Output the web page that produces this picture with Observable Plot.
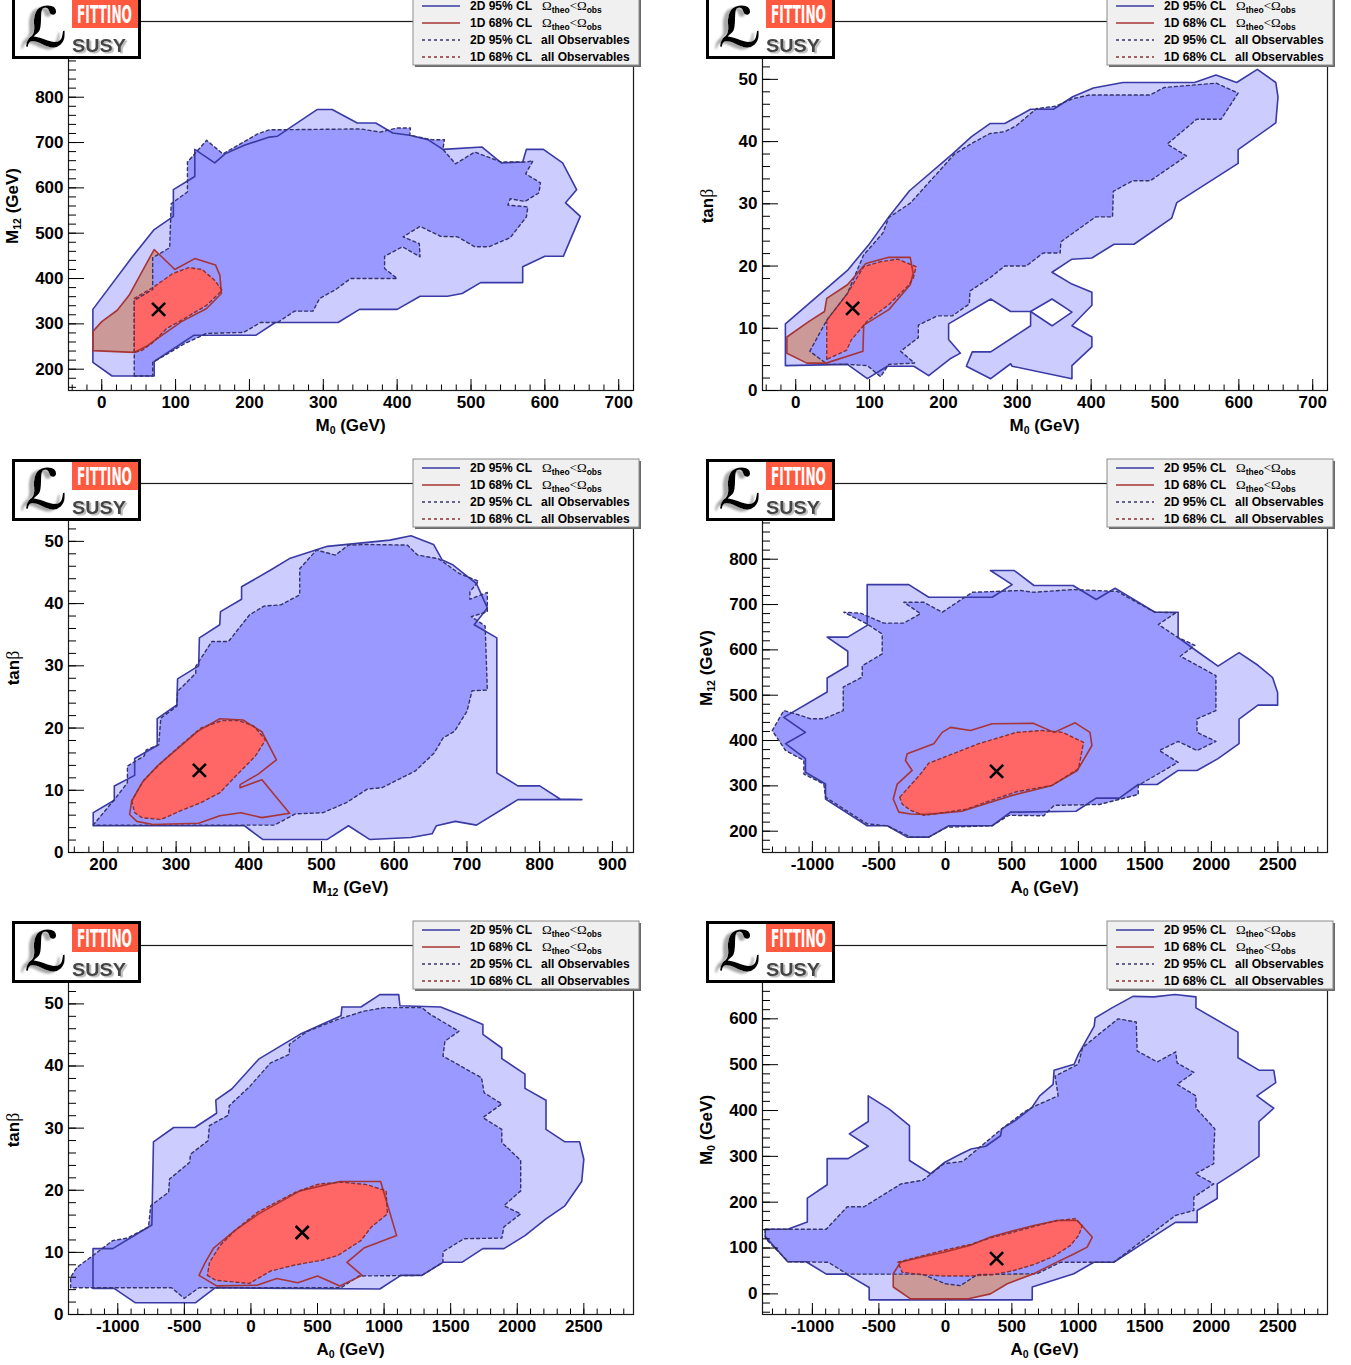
<!DOCTYPE html>
<html><head><meta charset="utf-8">
<script src="https://cdn.jsdelivr.net/npm/d3@7"></script>
<script src="https://cdn.jsdelivr.net/npm/@observablehq/plot@0.6"></script>
<style>
body{margin:0;background:#fff;}
#root{position:relative;width:1351px;height:1365px;overflow:hidden;font-family:"Liberation Sans",Arial,Helvetica,sans-serif;background:#fff;}
.panel{position:absolute;width:675px;height:462px;}
.panel > svg.plotsvg{position:absolute;left:0;top:0;overflow:visible;}
.logo{position:absolute;left:12px;top:-3px;}
.legend{position:absolute;left:412px;top:-4px;}
.xtitle,.ytitle{position:absolute;font-weight:bold;font-size:17px;white-space:nowrap;color:#000;}
.xtitle{transform:translate(-50%,-50%);}
.ytitle{transform:translate(-50%,-50%) rotate(-90deg);}
sub{font-size:0.62em;vertical-align:-0.3em;line-height:0;}
.sym{font-family:"Liberation Serif","DejaVu Serif",serif;font-weight:normal;font-size:1.05em;}
</style>
</head><body><div id="root"></div>
<script>
// ---------- tick labels ----------
const ticksM0X  = [0,100,200,300,400,500,600,700];
const ticksM12Y = [200,300,400,500,600,700,800];
const ticksTanb = [0,10,20,30,40,50];
const ticksM12X = [200,300,400,500,600,700,800,900];
const ticksA0   = [-1000,-500,0,500,1000,1500,2000,2500];
const ticksM0Y  = [0,100,200,300,400,500,600];

// ---------- best fit point ----------
const bestM0 = 77, bestM12 = 332, bestTanb = 13.2, bestA0 = 385;

// ---------- Panel 1 : M0 vs M12 ----------
const m0m12_omega2D = [[-12,215],[14,185],[71,185],[71,217],[125,275],[209,275],[235,303],[320,303],[349,332],[400,332],[431,361],[468,361],[488,367],[513,391],[570,391],[570,426],[600,449],[625,449],[638,499],[648,537],[628,567],[643,596],[624,655],[598,685],[575,685],[570,657],[541,655],[515,690],[462,685],[442,706],[417,716],[394,721],[371,743],[346,743],[312,773],[292,773],[238,714],[227,712],[193,694],[167,675],[153,655],[126,685],[126,625],[97,596],[97,537],[71,508],[42,449],[-12,332]];
const m0m12_all2D = [[44,185],[44,352],[69,376],[69,446],[92,468],[94,565],[116,591],[116,657],[142,705],[164,675],[211,719],[227,728],[351,730],[377,723],[400,732],[418,732],[417,716],[448,706],[464,706],[462,685],[479,653],[505,679],[541,657],[575,657],[584,660],[574,631],[594,611],[592,589],[573,570],[553,576],[550,562],[577,558],[575,536],[553,490],[524,470],[505,470],[482,492],[459,493],[431,515],[408,492],[430,477],[431,448],[407,470],[383,449],[383,422],[400,400],[337,400],[317,376],[295,356],[286,328],[261,328],[238,303],[215,303],[192,281],[142,279],[113,257],[69,215],[69,185]];
const m0m12_omega1D = [[-12,241],[-12,283],[0,305],[21,330],[37,363],[71,464],[99,420],[126,444],[154,430],[160,407],[162,367],[142,334],[108,305],[79,272],[60,250],[44,237]];
const m0m12_all1D = [[44,237],[44,356],[71,382],[96,411],[118,424],[136,420],[153,396],[163,374],[142,341],[108,308],[88,290],[68,257],[54,241]];

// ---------- Panel 2 : M0 vs tan(beta) ----------
const m0tb_omega2D = [[-14,4.0],[-14,10.7],[70,19.3],[100,23.6],[126,27.9],[154,32.1],[212,38.0],[238,40.8],[263,42.9],[283,42.9],[318,45.2],[349,45.2],[375,47.2],[403,48.6],[443,49.5],[540,49.5],[569,50.7],[597,49.5],[625,51.6],[650,49.5],[653,47.2],[650,43.0],[599,38.7],[599,36.5],[516,30.2],[509,27.7],[458,23.5],[431,23.5],[401,21.3],[374,21.1],[347,19.0],[374,17.1],[401,15.8],[401,13.7],[374,10.4],[401,8.6],[401,7.0],[374,4.0],[374,1.9],[293,3.9],[291,4.3],[264,1.9],[231,3.9],[239,6.2],[264,6.2],[318,10.4],[318,12.7],[291,12.7],[264,14.7],[207,10.7],[207,8.2],[223,6.0],[209,5.1],[180,2.4],[160,3.9],[124,3.9],[97,1.9],[70,4.2]];
const m0tb_omega2D_hole = [[318,12.7],[347,14.7],[374,12.6],[347,10.4]];
const m0tb_all2D = [[19,6.3],[42,11.3],[70,15.6],[92,21.8],[118,25.3],[126,27.8],[155,30.1],[215,38.0],[238,39.7],[263,41.3],[283,41.6],[298,42.5],[326,45.3],[352,45.7],[375,46.9],[398,47.5],[480,47.5],[499,48.7],[569,49.4],[599,47.8],[576,43.6],[543,43.6],[503,39.6],[529,37.7],[480,33.7],[456,33.7],[430,32.0],[429,27.9],[406,27.9],[359,23.9],[358,22.1],[335,22.1],[312,20.0],[283,20.0],[263,18.1],[236,16.0],[235,13.9],[212,12.0],[192,12.0],[166,10.5],[166,8.5],[142,6.3],[161,4.4],[126,4.2],[115,2.2],[97,4.0],[70,4.2],[43,4.2]];
const m0tb_omega1D = [[-12,8.6],[18,11.1],[39,12.7],[42,14.8],[70,17.0],[95,20.4],[126,21.4],[155,21.4],[159,18.8],[155,17.0],[126,13.0],[92,10.5],[91,6.3],[41,4.4],[15,4.4],[-12,6.0]];
const m0tb_all1D = [[42,5.0],[42,11.3],[70,15.6],[92,19.9],[115,20.7],[138,21.1],[163,19.9],[159,18.0],[152,16.8],[126,13.8],[98,11.3],[75,8.1],[69,6.5]];

// ---------- Panel 3 : M12 vs tan(beta) ----------
const m12tb_omega2D = [[186,4.3],[186,6.4],[215,8.4],[215,10.7],[243,12.4],[243,15.1],[274,17.2],[274,21.5],[301,23.7],[302,27.9],[331,30.0],[332,34.5],[360,36.6],[361,38.7],[390,40.7],[390,42.7],[430,45.4],[457,47.3],[508,49.2],[594,50.2],[623,50.9],[654,49.5],[666,47.0],[681,46.2],[713,43.2],[728,39.3],[710,36.6],[741,34.5],[741,12.8],[770,10.7],[800,10.7],[828,8.6],[858,8.5],[770,8.5],[713,4.4],[684,5.0],[658,4.3],[652,3.0],[623,2.4],[566,2.1],[537,4.3],[508,2.1],[419,2.1],[394,4.3]];
const m12tb_all2D = [[186,4.4],[215,8.5],[233,11.2],[233,13.9],[256,15.5],[259,16.5],[276,17.3],[279,21.6],[301,23.5],[302,25.9],[327,28.8],[327,29.9],[349,33.9],[372,33.9],[401,38.2],[421,39.6],[444,39.8],[470,41.4],[470,45.6],[493,48.6],[519,47.8],[537,49.4],[563,49.5],[618,49.4],[632,47.8],[661,47.2],[690,44.8],[716,43.6],[704,41.9],[704,40.7],[728,41.8],[728,38.7],[706,37.9],[725,36.4],[728,26.1],[707,26.0],[700,22.7],[683,19.5],[667,18.4],[655,16.0],[629,13.1],[583,10.4],[563,10.2],[534,8.0],[502,6.4],[464,6.2],[435,4.4]];
const m12tb_omega1D = [[239,8.3],[236,6.1],[246,5.0],[268,4.5],[331,4.7],[360,5.9],[389,6.4],[418,5.6],[456,6.3],[418,11.7],[388,10.4],[388,10.9],[413,12.6],[438,14.9],[418,19.4],[392,21.3],[360,21.5],[330,19.5],[300,16.5],[274,13.9],[253,11.2]];
const m12tb_all1D = [[239,8.3],[243,6.4],[253,5.6],[279,5.3],[308,6.8],[334,8.0],[360,9.6],[383,12.4],[409,15.5],[423,18.1],[407,20.3],[386,21.2],[363,21.2],[334,20.0],[302,16.8],[282,14.7],[256,11.7]];

// ---------- Panel 4 : A0 vs M12 ----------
const a0m12_omega2D = [[-588,744],[-275,744],[-125,716],[352,716],[502,744],[339,775],[518,775],[666,742],[960,742],[1134,711],[1276,736],[1576,683],[1750,683],[1750,627],[1892,597],[2050,564],[2208,594],[2350,566],[2460,539],[2498,506],[2498,478],[2350,478],[2208,447],[2208,393],[2050,360],[1892,334],[1750,334],[1592,303],[1450,303],[1308,273],[1134,273],[982,244],[490,242],[352,212],[26,212],[-125,187],[-287,187],[-437,212],[-588,212],[-901,271],[-901,304],[-1052,330],[-1052,360],[-1202,393],[-1052,418],[-1215,451],[-889,507],[-889,538],[-734,565],[-734,597],[-889,628],[-734,628],[-588,654]];
const a0m12_all2D = [[-1302,422],[-1215,466],[-1127,459],[-1014,448],[-914,448],[-768,466],[-768,518],[-625,540],[-625,565],[-475,591],[-475,635],[-588,657],[-764,683],[-638,681],[-463,659],[-313,659],[-187,680],[-313,705],[-162,705],[-24,683],[202,727],[565,731],[660,727],[960,733],[1292,729],[1450,703],[1576,683],[1734,682],[1601,656],[1750,627],[1876,610],[1766,586],[1892,566],[2034,543],[2034,466],[1892,448],[1892,418],[2034,398],[1892,378],[1750,398],[1608,378],[1750,352],[1450,301],[1450,281],[1159,259],[818,257],[739,234],[477,235],[352,212],[139,210],[13,209],[-125,187],[-262,187],[-437,212],[-588,216],[-901,275],[-914,304],[-1064,326],[-1064,356],[-1202,378]];
const a0m12_omega1D = [[-262,238],[-130,237],[123,244],[502,279],[802,301],[992,334],[1102,389],[1087,418],[976,439],[818,418],[660,438],[352,437],[189,422],[39,429],[-24,418],[-87,393],[-287,371],[-300,356],[-250,334],[-362,304],[-392,271],[-350,242]];
const a0m12_all1D = [[-343,275],[-325,260],[-262,246],[-162,235],[13,242],[164,249],[313,265],[534,287],[802,301],[1001,338],[1039,396],[881,418],[723,422],[534,418],[251,393],[-125,350],[-187,326]];

// ---------- Panel 5 : A0 vs tan(beta) ----------
const a0tb_omega2D = [[-1186,4.2],[-1186,10.6],[-1038,10.6],[-744,14.4],[-732,27.8],[-580,30.1],[-422,30.1],[-258,32.4],[-264,34.5],[-144,36.3],[58,41.1],[368,45.1],[677,48.1],[683,49.5],[826,49.5],[968,51.5],[1110,51.5],[1119,49.7],[1425,49.5],[1600,48.0],[1742,46.7],[1742,45.1],[1884,42.9],[1884,41.2],[2058,38.7],[2058,36.4],[2216,34.5],[2216,29.8],[2358,27.8],[2468,27.8],[2500,25.0],[2484,21.4],[2358,17.5],[2216,15.4],[2058,12.7],[1900,10.6],[1742,10.6],[1584,8.4],[1442,8.4],[1284,6.3],[1126,6.3],[968,4.1],[-270,4.3],[-415,1.9],[-870,1.9],[-1028,4.2]];
const a0tb_all2D = [[-1354,4.3],[-1354,6.0],[-1306,7.6],[-1186,9.5],[-1038,11.9],[-927,12.3],[-769,14.1],[-753,17.5],[-618,19.7],[-611,21.8],[-460,24.5],[-454,25.8],[-321,28.0],[-312,30.4],[-169,32.1],[-163,33.6],[-5,36.8],[147,40.5],[289,41.9],[289,43.5],[425,45.6],[652,47.5],[842,48.8],[999,49.4],[1284,49.4],[1347,48.3],[1562,45.6],[1457,44.0],[1442,41.6],[1732,38.1],[1751,35.7],[1884,33.9],[1742,31.7],[1884,29.8],[1884,27.7],[2026,24.8],[2026,19.9],[1900,17.5],[2026,16.2],[1900,14.1],[1884,12.3],[1600,12.2],[1442,10.1],[1442,8.4],[1284,6.3],[810,6.2],[677,4.3],[-390,4.3],[-501,2.6],[-596,4.3]];
const a0tb_omega1D = [[-390,6.3],[-258,4.6],[45,4.7],[194,5.8],[352,5.1],[500,6.2],[668,4.6],[835,6.3],[721,8.4],[848,10.7],[1094,12.7],[974,21.4],[668,21.4],[368,19.9],[58,16.2],[-122,13.5],[-280,10.7],[-343,8.4]];
const a0tb_all1D = [[-327,6.3],[-264,5.5],[-11,5.0],[147,7.0],[336,8.0],[525,8.7],[652,9.5],[826,11.9],[905,14.1],[1025,16.2],[1015,19.9],[873,20.9],[683,21.3],[510,21.0],[336,19.7],[52,16.5],[-106,13.8],[-232,11.1],[-311,8.4]];

// ---------- Panel 6 : A0 vs M0 ----------
const a0m0_omega2D = [[-1354,141],[-1186,141],[-1038,157],[-1038,209],[-889,238],[-889,295],[-731,295],[-580,322],[-722,349],[-580,376],[-580,432],[-422,403],[-270,367],[-270,291],[-112,262],[-11,286],[115,305],[194,316],[304,322],[415,345],[424,360],[525,378],[652,407],[709,432],[810,457],[817,488],[968,501],[999,522],[1119,584],[1126,602],[1252,624],[1410,649],[1568,648],[1726,653],[1884,648],[1884,624],[2200,571],[2200,515],[2358,488],[2469,488],[2484,461],[2342,432],[2469,405],[2358,376],[2358,300],[2200,269],[2044,240],[2044,208],[1893,182],[1893,156],[1730,156],[1266,69],[1116,69],[966,44],[653,15],[653,-13],[-573,-13],[-573,14],[-744,43],[-895,43],[-1047,70],[-1186,70],[-1354,125]];
const a0m0_all2D = [[-1354,141],[-896,141],[-738,190],[-611,190],[-333,240],[-169,248],[-11,284],[131,289],[424,360],[589,396],[652,407],[848,432],[825,475],[999,501],[1031,537],[1182,573],[1299,600],[1435,593],[1442,530],[1593,506],[1732,528],[1742,504],[1868,483],[1742,457],[1884,432],[1884,405],[2026,360],[2018,313],[2018,284],[1880,262],[2018,240],[1868,211],[1868,182],[1730,171],[1266,69],[866,69],[690,44],[239,42],[114,18],[-1,22],[-174,43],[-738,43],[-880,69],[-1180,70],[-1354,121]];
const a0m0_omega1D = [[-337,69],[-392,44],[-392,15],[-262,-11],[164,-11],[339,0],[465,22],[665,44],[815,66],[966,87],[1066,102],[1104,124],[991,160],[841,160],[665,149],[515,138],[339,124],[189,106],[-12,91],[-187,80]];
const a0m0_all1D = [[-357,69],[-187,82],[-12,95],[189,108],[339,122],[515,135],[665,147],[841,160],[978,164],[1029,149],[1003,128],[941,106],[815,82],[665,64],[515,51],[364,42],[189,39],[-12,39],[-187,42],[-325,47]];

// ---------- styles ----------
const C_LIGHT = "#ccccff", C_MED = "#9999ff", C_RED = "#ff6666", C_BROWN = "#cc9999";
const L_BLUE = "#3a3aa6", L_RED = "#a83434", D_BLUE = "#34346a", D_RED = "#8a3030";
const W = 675, H = 462, ML = 68, MR = 42, MT = 21, MB = 72;
const FW = W - ML - MR, FH = H - MT - MB;

const panels = [
  {left:0, top:0, xd:[-45,720], yd:[153,967], xt:ticksM0X, xm:20, yt:ticksM12Y, ym:20,
   o2:m0m12_omega2D, holes:[], o1:m0m12_omega1D, a2:m0m12_all2D, a1:m0m12_all1D, best:[bestM0,bestM12],
   xTitle:'M<sub>0</sub> (GeV)', yTitle:'M<sub>12</sub> (GeV)'},
  {left:694, top:0, xd:[-45,720], yd:[0,59.3], xt:ticksM0X, xm:20, yt:ticksTanb, ym:2,
   o2:m0tb_omega2D, holes:[m0tb_omega2D_hole], o1:m0tb_omega1D, a2:m0tb_all2D, a1:m0tb_all1D, best:[bestM0,bestTanb],
   xTitle:'M<sub>0</sub> (GeV)', yTitle:'tan<span class="sym">β</span>'},
  {left:0, top:462, xd:[152,929], yd:[0,59.3], xt:ticksM12X, xm:20, yt:ticksTanb, ym:2,
   o2:m12tb_omega2D, holes:[], o1:m12tb_omega1D, a2:m12tb_all2D, a1:m12tb_all1D, best:[bestM12,bestTanb],
   xTitle:'M<sub>12</sub> (GeV)', yTitle:'tan<span class="sym">β</span>'},
  {left:694, top:462, xd:[-1375,2873], yd:[153,967], xt:ticksA0, xm:100, yt:ticksM12Y, ym:20,
   o2:a0m12_omega2D, holes:[], o1:a0m12_omega1D, a2:a0m12_all2D, a1:a0m12_all1D, best:[bestA0,bestM12],
   xTitle:'A<sub>0</sub> (GeV)', yTitle:'M<sub>12</sub> (GeV)'},
  {left:0, top:924, xd:[-1370,2873], yd:[0,59.4], xt:ticksA0, xm:100, yt:ticksTanb, ym:2,
   o2:a0tb_omega2D, holes:[], o1:a0tb_omega1D, a2:a0tb_all2D, a1:a0tb_all1D, best:[bestA0,bestTanb],
   xTitle:'A<sub>0</sub> (GeV)', yTitle:'tan<span class="sym">β</span>'},
  {left:694, top:924, xd:[-1375,2873], yd:[-45,760], xt:ticksA0, xm:100, yt:ticksM0Y, ym:20,
   o2:a0m0_omega2D, holes:[], o1:a0m0_omega1D, a2:a0m0_all2D, a1:a0m0_all1D, best:[bestA0,bestM0],
   xTitle:'A<sub>0</sub> (GeV)', yTitle:'M<sub>0</sub> (GeV)'}
];

function poly(data, opts) {
  return Plot.line(data, {x: d => d[0], y: d => d[1], curve: "linear-closed", ...opts});
}
function minors(dom, step) {
  const a = Math.ceil(dom[0] / step) * step;
  return d3.range(a, dom[1] + 1e-9, step);
}

const legendSVG = `
<svg width="232" height="74" viewBox="0 0 232 74" font-family="Liberation Sans, Arial, sans-serif">
  <rect x="3" y="3" width="226" height="68" fill="#6a6a6a"/>
  <rect x="1" y="1" width="226" height="68" fill="#f0f0f0" stroke="#8c8c8c" stroke-width="1"/>
  <line x1="10" x2="48" y1="10" y2="10" stroke="${L_BLUE}" stroke-width="1.6"/>
  <line x1="10" x2="48" y1="27" y2="27" stroke="${L_RED}" stroke-width="1.6"/>
  <line x1="10" x2="48" y1="44" y2="44" stroke="${D_BLUE}" stroke-width="1.6" stroke-dasharray="3,3"/>
  <line x1="10" x2="48" y1="61" y2="61" stroke="${D_RED}" stroke-width="1.6" stroke-dasharray="3,3"/>
  <g font-weight="bold" font-size="12" fill="#000">
    <text x="58" y="14.3">2D 95% CL</text>
    <text x="58" y="31.3">1D 68% CL</text>
    <text x="58" y="48.3">2D 95% CL</text>
    <text x="58" y="65.3">1D 68% CL</text>
    <text x="129" y="48.3">all Observables</text>
    <text x="129" y="65.3">all Observables</text>
  </g>
  ${[14.3, 31.3].map(y => `<text x="130" y="${y}" font-size="13" fill="#000"><tspan font-family="Liberation Serif, DejaVu Serif, serif">Ω</tspan><tspan font-size="8.5" font-weight="bold" dy="3">theo</tspan><tspan dy="-3" font-family="Liberation Serif, DejaVu Serif, serif">&lt;Ω</tspan><tspan font-size="8.5" font-weight="bold" dy="3">obs</tspan></text>`).join("")}
</svg>`;

const logoSVG = `
<svg width="130" height="63" viewBox="0 0 130 63">
  <defs>
    <filter id="lshadow" x="-30%" y="-20%" width="160%" height="150%">
      <feDropShadow dx="-5" dy="2" stdDeviation="0.8" flood-color="#a8a8a8" flood-opacity="1"/>
    </filter>
    <filter id="sshadow" x="-20%" y="-30%" width="140%" height="160%">
      <feDropShadow dx="2" dy="1.5" stdDeviation="0.4" flood-color="#bdbdbd" flood-opacity="1"/>
    </filter>
  </defs>
  <rect x="1.5" y="1.5" width="126" height="59" fill="#fff" stroke="#000" stroke-width="3"/>
  <rect x="60" y="3" width="66" height="28" fill="#ff5a3f"/>
  <text x="65" y="26" font-family="Liberation Sans Narrow, DejaVu Sans Condensed, Liberation Sans, sans-serif" font-weight="bold" font-size="24" fill="#fff" textLength="55" lengthAdjust="spacingAndGlyphs">FITTINO</text>
  <text x="12" y="50" font-family="DejaVu Sans, sans-serif" font-size="56" font-weight="bold" fill="#000" filter="url(#lshadow)" textLength="44" lengthAdjust="spacingAndGlyphs">ℒ</text>
  <text x="60" y="55" font-family="Liberation Sans, sans-serif" font-size="19" font-weight="bold" fill="#444" filter="url(#sshadow)" textLength="54" lengthAdjust="spacingAndGlyphs">SUSY</text>
</svg>`;

const root = document.getElementById("root");
for (const p of panels) {
  const div = document.createElement("div");
  div.className = "panel";
  div.style.left = p.left + "px";
  div.style.top = p.top + "px";
  root.appendChild(div);

  const xMinor = minors(p.xd, p.xm);
  const yMinor = minors(p.yd, p.ym);
  const marks = [
    poly(p.o2, {fill: C_LIGHT, stroke: "none"}),
    ...p.holes.map(h => poly(h, {fill: "#fff", stroke: "none"})),
    poly(p.o1, {fill: C_BROWN, stroke: "none"}),
    poly(p.a2, {fill: C_MED, stroke: "none"}),
    poly(p.a1, {fill: C_RED, stroke: "none"}),
    poly(p.o2, {fill: "none", stroke: L_BLUE, strokeWidth: 1.6}),
    ...p.holes.map(h => poly(h, {fill: "none", stroke: L_BLUE, strokeWidth: 1.6})),
    poly(p.a2, {fill: "none", stroke: D_BLUE, strokeWidth: 1.4, strokeDasharray: "3,3"}),
    poly(p.o1, {fill: "none", stroke: L_RED, strokeWidth: 1.6}),
    poly(p.a1, {fill: "none", stroke: D_RED, strokeWidth: 1.4, strokeDasharray: "3,3"}),
    Plot.frame({stroke: "#1a1a1a", strokeWidth: 1.2}),
    Plot.tickX(xMinor, {x: d => d, insetTop: FH - 5.5, stroke: "#000", strokeWidth: 1}),
    Plot.tickX(p.xt, {x: d => d, insetTop: FH - 11, stroke: "#000", strokeWidth: 1}),
    Plot.tickY(yMinor, {y: d => d, insetRight: FW - 8, stroke: "#000", strokeWidth: 1}),
    Plot.tickY(p.yt, {y: d => d, insetRight: FW - 16, stroke: "#000", strokeWidth: 1}),
    Plot.text(p.xt, {x: d => d, text: d => String(d), frameAnchor: "bottom", dy: 12, lineAnchor: "middle", fontSize: 17, fontWeight: "bold", fill: "#000"}),
    Plot.text(p.yt, {y: d => d, text: d => String(d), frameAnchor: "left", dx: -5, textAnchor: "end", lineAnchor: "middle", fontSize: 17, fontWeight: "bold", fill: "#000"}),
    Plot.dot([p.best], {x: d => d[0], y: d => d[1], symbol: "times", r: 6, stroke: "#000", strokeWidth: 2.6})
  ];
  const svg = Plot.plot({
    width: W, height: H,
    marginLeft: ML, marginRight: MR, marginTop: MT, marginBottom: MB,
    x: {domain: p.xd, axis: null},
    y: {domain: p.yd, axis: null},
    style: {background: "transparent", fontFamily: '"Liberation Sans", Arial, sans-serif', overflow: "visible"},
    marks
  });
  svg.classList.add("plotsvg");
  div.appendChild(svg);

  const xt = document.createElement("div");
  xt.className = "xtitle";
  xt.style.left = (ML + FW / 2) + "px";
  xt.style.top = "426px";
  xt.innerHTML = p.xTitle;
  div.appendChild(xt);

  const yt = document.createElement("div");
  yt.className = "ytitle";
  yt.style.left = "13px";
  yt.style.top = (MT + FH / 2) + "px";
  yt.innerHTML = p.yTitle;
  div.appendChild(yt);

  const lg = document.createElement("div");
  lg.className = "legend";
  lg.innerHTML = legendSVG;
  div.appendChild(lg);

  const lo = document.createElement("div");
  lo.className = "logo";
  lo.innerHTML = logoSVG;
  div.appendChild(lo);
}
</script>
</body></html>
